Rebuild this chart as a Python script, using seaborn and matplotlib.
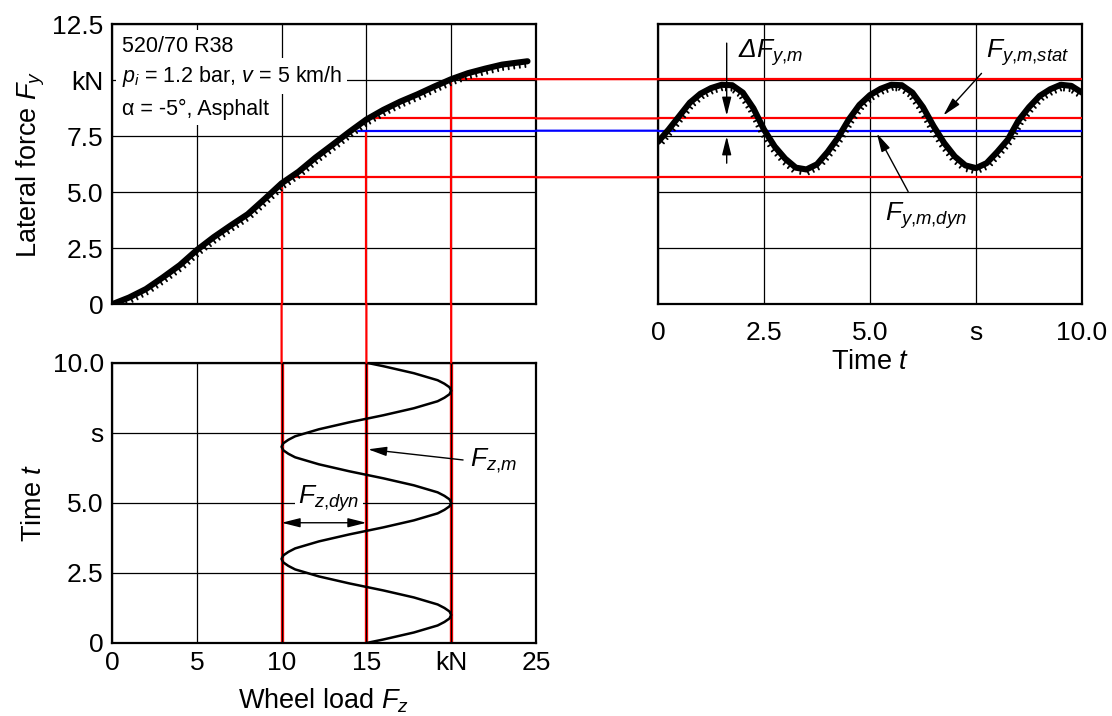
import matplotlib
matplotlib.use("Agg")
import matplotlib.pyplot as plt
import matplotlib.patheffects as pe
from matplotlib.patches import ConnectionPatch
import seaborn as sns

# ---------------- data ----------------
# characteristic curve: lateral force vs wheel load
fz_char = [0, 1, 2, 3, 4, 5, 6, 7, 8, 9, 10, 11, 12, 13, 14, 15, 16, 17,
           18, 19, 20, 21, 22, 23, 24, 24.5]
fy_char = [0.00, 0.30, 0.68, 1.20, 1.75, 2.42, 3.00, 3.52, 4.02, 4.70,
           5.40, 5.92, 6.55, 7.12, 7.70, 8.25, 8.68, 9.05, 9.37, 9.72,
           10.05, 10.32, 10.52, 10.70, 10.80, 10.85]

# lateral force vs time
t_fy = [0.00, 0.25, 0.50, 0.75, 1.00, 1.25, 1.50, 1.75, 2.00, 2.25, 2.50,
        2.75, 3.00, 3.25, 3.50, 3.75, 4.00, 4.25, 4.50, 4.75, 5.00, 5.25,
        5.50, 5.75, 6.00, 6.25, 6.50, 6.75, 7.00, 7.25, 7.50, 7.75, 8.00,
        8.25, 8.50, 8.75, 9.00, 9.25, 9.50, 9.75, 10.00]
fy_t = [7.25, 7.80, 8.40, 9.00, 9.40, 9.65, 9.80, 9.78, 9.45, 8.75, 7.80,
        7.05, 6.50, 6.10, 6.02, 6.25, 6.80, 7.45, 8.25, 8.90, 9.34, 9.62,
        9.80, 9.78, 9.45, 8.80, 7.95, 7.20, 6.60, 6.20, 6.08, 6.30, 6.80,
        7.35, 8.20, 8.80, 9.30, 9.60, 9.80, 9.75, 9.45]

# wheel load vs time (0.125 s steps)
t_fz = [0.000, 0.125, 0.250, 0.375, 0.500, 0.625, 0.750, 0.875,
        1.000, 1.125, 1.250, 1.375, 1.500, 1.625, 1.750, 1.875,
        2.000, 2.125, 2.250, 2.375, 2.500, 2.625, 2.750, 2.875,
        3.000, 3.125, 3.250, 3.375, 3.500, 3.625, 3.750, 3.875,
        4.000, 4.125, 4.250, 4.375, 4.500, 4.625, 4.750, 4.875,
        5.000, 5.125, 5.250, 5.375, 5.500, 5.625, 5.750, 5.875,
        6.000, 6.125, 6.250, 6.375, 6.500, 6.625, 6.750, 6.875,
        7.000, 7.125, 7.250, 7.375, 7.500, 7.625, 7.750, 7.875,
        8.000, 8.125, 8.250, 8.375, 8.500, 8.625, 8.750, 8.875,
        9.000, 9.125, 9.250, 9.375, 9.500, 9.625, 9.750, 9.875,
        10.000]
fz_t = [15.0, 16.0, 16.9, 17.8, 18.5, 19.2, 19.6, 19.9,
        20.0, 19.9, 19.6, 19.2, 18.5, 17.8, 16.9, 16.0,
        15.0, 14.0, 13.1, 12.2, 11.5, 10.8, 10.4, 10.1,
        10.0, 10.1, 10.4, 10.8, 11.5, 12.2, 13.1, 14.0,
        15.0, 16.0, 16.9, 17.8, 18.5, 19.2, 19.6, 19.9,
        20.0, 19.9, 19.6, 19.2, 18.5, 17.8, 16.9, 16.0,
        15.0, 14.0, 13.1, 12.2, 11.5, 10.8, 10.4, 10.1,
        10.0, 10.1, 10.4, 10.8, 11.5, 12.2, 13.1, 14.0,
        15.0, 16.0, 16.9, 17.8, 18.5, 19.2, 19.6, 19.9,
        20.0, 19.9, 19.6, 19.2, 18.5, 17.8, 16.9, 16.0,
        15.0]

# construction lines
fz_levels = [10, 15, 20]           # min, mean, max wheel load
fy_levels = [5.67, 8.30, 10.05]    # corresponding lateral forces
fy_top_at_fz = [5.2, 7.75, 9.9]    # where the vertical lines meet the curve
fz_start_h = [10.8, 15.3, 20.5]    # where the horizontal lines leave the curve
fy_m_dyn = 7.75
fz_start_dyn = 14.5

fy_ticks = [0, 2.5, 5, 7.5, 10, 12.5]
fy_ticklabels = ["0", "2.5", "5.0", "7.5", "kN", "12.5"]
fz_ticks = [0, 5, 10, 15, 20, 25]
fz_ticklabels = ["0", "5", "10", "15", "kN", "25"]
t_ticks = [0, 2.5, 5, 7.5, 10]
t_ticklabels = ["0", "2.5", "5.0", "s", "10.0"]

# ---------------- style ----------------
sns.set_style("white")
plt.rcParams["font.family"] = ["Liberation Sans", "DejaVu Sans"]
plt.rcParams["mathtext.fontset"] = "custom"
plt.rcParams["mathtext.rm"] = "Liberation Sans"
plt.rcParams["mathtext.it"] = "Liberation Sans:italic"
plt.rcParams["mathtext.bf"] = "Liberation Sans:bold"
for k in ("text.color", "axes.labelcolor", "xtick.color", "ytick.color"):
    plt.rcParams[k] = "black"

TICK_FS = 19
LABEL_FS = 19.5
ANN_FS = 19
INFO_FS = 15.5
RED = "#ff0000"
BLUE = "#0000ff"

fig = plt.figure(figsize=(11.12, 7.16), dpi=100)
ax1 = fig.add_axes([0.10072, 0.57500, 0.38129, 0.39106])
ax2 = fig.add_axes([0.59173, 0.57500, 0.38129, 0.39106])
ax3 = fig.add_axes([0.10072, 0.10196, 0.38129, 0.39148])

for ax in (ax1, ax2, ax3):
    ax.grid(True, color="black", lw=0.9)
    ax.set_axisbelow(True)
    for s in ax.spines.values():
        s.set_color("black")
        s.set_linewidth(1.6)
    ax.tick_params(length=0, labelsize=TICK_FS, colors="black")

# --- ax1: Fy vs Fz
ax1.set_xlim(0, 25)
ax1.set_ylim(0, 12.5)
ax1.set_xticks(fz_ticks)
ax1.set_xticklabels([])
ax1.set_yticks(fy_ticks)
ax1.set_yticklabels(fy_ticklabels)
ax1.tick_params(axis="y", pad=6)
ax1.set_ylabel(r"Lateral force $F_y$", fontsize=LABEL_FS, labelpad=4)

# --- ax2: Fy vs t
ax2.set_xlim(0, 10)
ax2.set_ylim(0, 12.5)
ax2.set_xticks(t_ticks)
ax2.set_xticklabels(t_ticklabels)
ax2.set_yticks(fy_ticks)
ax2.set_yticklabels([])
ax2.tick_params(axis="x", pad=12)
ax2.set_xlabel(r"Time $t$", fontsize=LABEL_FS, labelpad=3)

# --- ax3: t vs Fz
ax3.set_xlim(0, 25)
ax3.set_ylim(0, 10)
ax3.set_xticks(fz_ticks)
ax3.set_xticklabels(fz_ticklabels)
ax3.set_yticks(t_ticks)
ax3.set_yticklabels(t_ticklabels)
ax3.tick_params(axis="x", pad=6)
ax3.tick_params(axis="y", pad=6)
ax3.set_xlabel(r"Wheel load $F_z$", fontsize=LABEL_FS, labelpad=8)
ax3.set_ylabel(r"Time $t$", fontsize=LABEL_FS, labelpad=4)

# ---------------- construction lines ----------------
for fz, top in zip(fz_levels, fy_top_at_fz):
    ax1.plot([fz, fz], [top, 0], color=RED, lw=1.6, zorder=3)
    ax3.plot([fz, fz], [0, 10], color=RED, lw=2.4, zorder=0.4)
    con = ConnectionPatch(xyA=(fz, 0), coordsA=ax1.transData,
                          xyB=(fz, 10), coordsB=ax3.transData,
                          color=RED, lw=1.6)
    fig.add_artist(con)

for fy, start in zip(fy_levels, fz_start_h):
    ax1.plot([start, 25], [fy, fy], color=RED, lw=1.6, zorder=3)
    ax2.plot([0, 10], [fy, fy], color=RED, lw=1.6, zorder=3)
    con = ConnectionPatch(xyA=(25, fy), coordsA=ax1.transData,
                          xyB=(0, fy), coordsB=ax2.transData,
                          color=RED, lw=1.6)
    fig.add_artist(con)

ax1.plot([fz_start_dyn, 25], [fy_m_dyn, fy_m_dyn], color=BLUE, lw=1.6, zorder=3)
ax2.plot([0, 10], [fy_m_dyn, fy_m_dyn], color=BLUE, lw=1.6, zorder=3)
fig.add_artist(ConnectionPatch(xyA=(25, fy_m_dyn), coordsA=ax1.transData,
                               xyB=(0, fy_m_dyn), coordsB=ax2.transData,
                               color=BLUE, lw=1.6))

# ---------------- curves ----------------
noisy = [pe.withTickedStroke(spacing=4.0, angle=-90, length=1.0, linewidth=1.3)]

sns.lineplot(x=fz_char, y=fy_char, ax=ax1, color="black", lw=4.4, zorder=5)
ax1.lines[-1].set_path_effects(noisy)

sns.lineplot(x=t_fy, y=fy_t, ax=ax2, color="black", lw=4.4, zorder=5)
ax2.lines[-1].set_path_effects(noisy)

sns.lineplot(x=fz_t, y=t_fz, ax=ax3, color="black", lw=1.8, zorder=5,
             sort=False, estimator=None)

# ---------------- annotations ----------------
box = dict(boxstyle="square,pad=0.25", fc="white", ec="none")
ax1.text(0.57, 11.28, "520/70 R38", fontsize=INFO_FS, va="baseline", bbox=box, zorder=4)
ax1.text(0.57, 9.94, r"$p_i$ = 1.2 bar, $v$ = 5 km/h", fontsize=INFO_FS,
         va="baseline", bbox=box, zorder=4)
ax1.text(0.57, 8.45, "α = -5°, Asphalt", fontsize=INFO_FS, va="baseline",
         bbox=box, zorder=4)

arrow = dict(arrowstyle="-|>,head_length=0.8,head_width=0.2", color="black",
             lw=1.0, shrinkA=0, shrinkB=0, mutation_scale=14)
darrow = dict(arrowstyle="<|-|>,head_length=0.8,head_width=0.2", color="black",
              lw=1.0, shrinkA=0, shrinkB=0, mutation_scale=14)

# Delta F_y,m
ax2.annotate("", xy=(1.62, 8.42), xytext=(1.62, 11.66), arrowprops=arrow, zorder=6)
ax2.annotate("", xy=(1.62, 7.5), xytext=(1.62, 6.3), arrowprops=arrow, zorder=6)
ax2.text(1.89, 11.0, r"ΔF$_{y{,}m}$", fontsize=ANN_FS, fontstyle="italic",
         va="baseline")

# F_y,m,stat
ax2.annotate("", xy=(6.73, 8.43), xytext=(7.63, 10.31), arrowprops=arrow, zorder=6)
ax2.text(7.74, 11.0, r"$F_{y{,}m{,}stat}$", fontsize=ANN_FS, va="baseline")

# F_y,m,dyn
ax2.annotate("", xy=(5.16, 7.63), xytext=(5.9, 5.03), arrowprops=arrow, zorder=6)
ax2.text(5.35, 3.75, r"$F_{y{,}m{,}dyn}$", fontsize=ANN_FS, va="baseline",
         bbox=dict(boxstyle="square,pad=0.12", fc="white", ec="none"), zorder=4)

# F_z,m
ax3.annotate("", xy=(15.1, 6.91), xytext=(20.7, 6.53), arrowprops=arrow, zorder=6)
ax3.text(21.1, 6.29, r"$F_{z{,}m}$", fontsize=ANN_FS, va="baseline")

# F_z,dyn
ax3.annotate("", xy=(10, 4.29), xytext=(15, 4.29), arrowprops=darrow, zorder=6)
ax3.text(10.97, 4.98, r"$F_{z{,}dyn}$", fontsize=ANN_FS, va="baseline",
         bbox=dict(boxstyle="square,pad=0.12", fc="white", ec="none"), zorder=4)

fig.savefig("out.png", dpi=100)
